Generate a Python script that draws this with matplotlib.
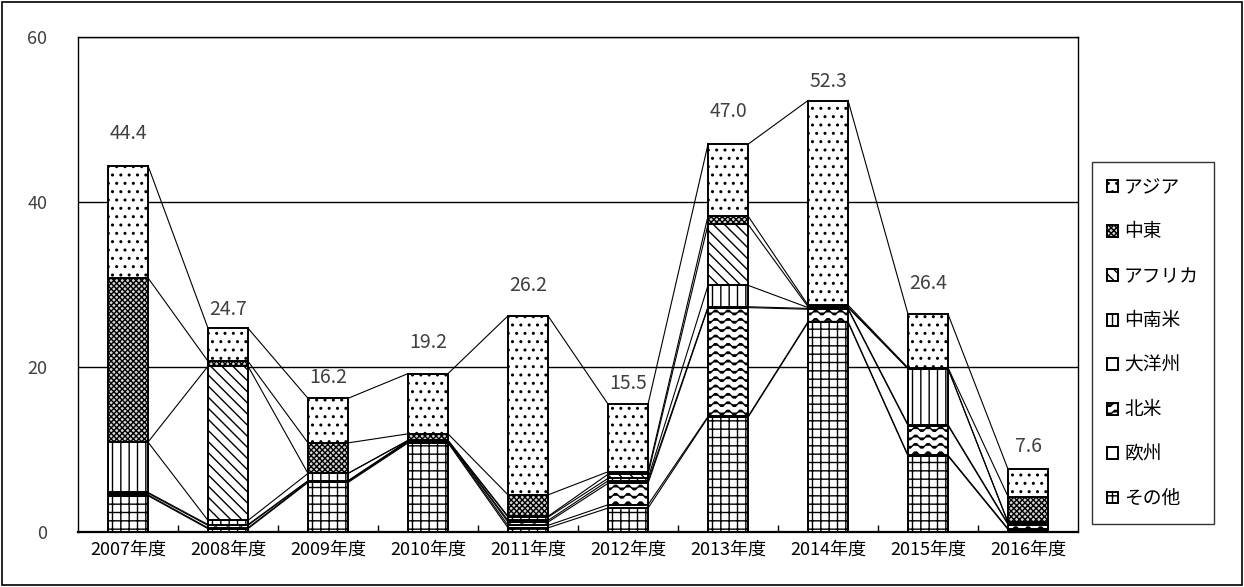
import warnings
import numpy as np
import matplotlib
matplotlib.use('Agg')
import matplotlib.pyplot as plt
import matplotlib.hatch as mhatch
from matplotlib.path import Path
from matplotlib.patches import Rectangle

warnings.filterwarnings('ignore')

# data
years = ['2007年度', '2008年度', '2009年度', '2010年度', '2011年度',
         '2012年度', '2013年度', '2014年度', '2015年度', '2016年度']
# stacking order: bottom -> top
sonota = [4.4, 0.4, 6.0, 10.8, 0.5, 2.9, 13.9, 25.4, 9.2, 0.3]     # その他
oushu = [0.1, 0.1, 0.1, 0.1, 0.3, 0.4, 0.1, 0.1, 0.1, 0.1]         # 欧州
hokubei = [0.2, 0.3, 0.1, 0.1, 0.4, 2.6, 13.2, 1.5, 3.6, 0.5]      # 北米
taiyoushu = [0.1, 0.1, 0.0, 0.05, 0.2, 0.3, 0.1, 0.1, 0.1, 0.1]    # 大洋州
chunanbei = [6.1, 0.5, 0.9, 0.05, 0.4, 0.3, 2.6, 0.1, 6.8, 0.1]    # 中南米
africa = [0.0, 18.7, 0.0, 0.0, 0.1, 0.5, 7.4, 0.1, 0.0, 0.1]       # アフリカ
chutou = [19.9, 0.6, 3.7, 0.8, 2.6, 0.3, 1.0, 0.2, 0.1, 3.1]       # 中東
asia = [13.6, 4.0, 5.4, 7.3, 21.7, 8.2, 8.7, 24.8, 6.5, 3.3]       # アジア
totals = [44.4, 24.7, 16.2, 19.2, 26.2, 15.5, 47.0, 52.3, 26.4, 7.6]

series_names = ['その他', '欧州', '北米', '大洋州', '中南米', 'アフリカ', '中東', 'アジア']
series_values = [sonota, oushu, hokubei, taiyoushu, chunanbei, africa, chutou, asia]

# label offsets above each bar (pixels), Excel placed them unevenly
label_offsets = [32, 19, 21, 31, 30, 21, 33, 19, 31, 23]


# custom wave hatch for 北米 ('~')
class WaveHatch(mhatch.HatchPatternBase):
    waves = 8
    steps = 6

    def __init__(self, hatch, density):
        self.num_lines = int(hatch.count('~') * density)
        self.num_vertices = self.num_lines * (self.waves * self.steps + 1)

    def set_vertices_and_codes(self, vertices, codes):
        n_pts = self.waves * self.steps + 1
        xs = np.linspace(0.0, 1.0, n_pts)
        amp = 0.3 / self.num_lines
        for i in range(self.num_lines):
            y0 = (i + 0.5) / self.num_lines
            ys = y0 + amp * np.sin(2 * np.pi * self.waves * xs)
            sl = slice(i * n_pts, (i + 1) * n_pts)
            vertices[sl, 0] = xs
            vertices[sl, 1] = ys
            codes[sl] = Path.LINETO
            codes[i * n_pts] = Path.MOVETO


mhatch._hatch_types.append(WaveHatch)

plt.rcParams['font.family'] = ['Noto Sans CJK JP', 'DejaVu Sans']
plt.rcParams['hatch.linewidth'] = 1.0

styles = {
    'その他': dict(facecolor='white', hatch='++'),
    '欧州': dict(facecolor='white', hatch=''),
    '北米': dict(facecolor='white', hatch='~~'),
    '大洋州': dict(facecolor='white', hatch=''),
    '中南米': dict(facecolor='white', hatch='||'),
    'アフリカ': dict(facecolor='white', hatch='\\\\\\'),
    '中東': dict(facecolor='#d4d4d4', hatch='xxxxxx'),
    'アジア': dict(facecolor='white', hatch='..'),
}

fig = plt.figure(figsize=(12.44, 5.87), dpi=100)
ax = fig.add_axes([0.0627, 0.0937, 0.8039, 0.8433])

x = np.arange(len(years))
width = 0.4
bottom = np.zeros(len(years))
cum_levels = []
for name, vals in zip(series_names, series_values):
    vals = np.array(vals)
    ax.bar(x, vals, width, bottom=bottom, label=name, edgecolor='black',
           linewidth=1.4, zorder=3, **styles[name])
    bottom = bottom + vals
    cum_levels.append(bottom.copy())

# series lines between neighbouring bars
for level in cum_levels:
    for i in range(len(years) - 1):
        ax.plot([x[i] + width / 2, x[i + 1] - width / 2], [level[i], level[i + 1]],
                color='black', linewidth=0.8, zorder=2)

# total labels
for i, t in enumerate(totals):
    ax.annotate(f'{t:.1f}', (x[i], bottom[i]), xytext=(0, label_offsets[i]),
                textcoords='offset pixels', ha='center', va='center',
                fontsize=14, color='#404040')

ax.set_xlim(-0.5, len(years) - 0.5)
ax.set_ylim(0, 60)
ax.set_yticks([0, 20, 40, 60])
ax.tick_params(axis='y', length=0, pad=22, labelsize=13, labelcolor='#404040')
ax.set_xticks(x)
ax.set_xticklabels(years)
ax.tick_params(axis='x', which='major', length=0, pad=6, labelsize=13)
ax.set_xticks(np.arange(0.5, len(years) - 0.5), minor=True)
ax.tick_params(axis='x', which='minor', direction='in', length=5, width=1)
ax.yaxis.grid(True, color='black', linewidth=1)
ax.set_axisbelow(True)
for s in ['top', 'left', 'right']:
    ax.spines[s].set_linewidth(1)
ax.spines['bottom'].set_linewidth(1.6)

# legend: Excel lists it top series first
handles, labels = ax.get_legend_handles_labels()
leg = fig.legend(handles[::-1], labels[::-1], loc='upper left',
                 bbox_to_anchor=(0.878, 0.724), fontsize=13.5, frameon=True,
                 fancybox=False, edgecolor='black', handlelength=0.6,
                 handleheight=0.6, handletextpad=0.3, labelspacing=1.25,
                 borderpad=0.8, borderaxespad=0)
leg.get_frame().set_linewidth(1)

# outer chart border
fig.patches.append(Rectangle((0.002, 0.003), 0.996, 0.994, transform=fig.transFigure,
                             fill=False, edgecolor='black', linewidth=1.2))

fig.savefig('out.png', dpi=100)
